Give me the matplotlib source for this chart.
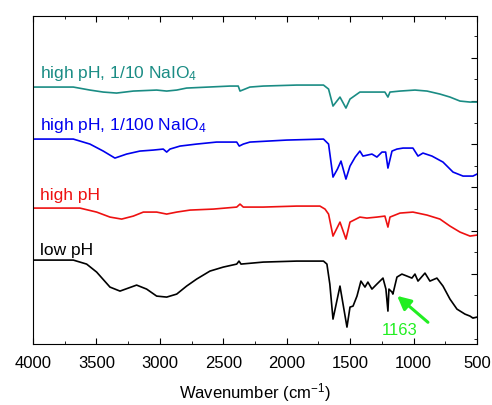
import matplotlib
matplotlib.use('Agg')
import matplotlib.pyplot as plt
from matplotlib.ticker import MultipleLocator

plt.rcParams['font.family'] = ['Liberation Sans', 'DejaVu Sans']
plt.rcParams['mathtext.fontset'] = 'custom'
plt.rcParams['mathtext.rm'] = 'Liberation Sans'
plt.rcParams['mathtext.it'] = 'Liberation Sans'

# spectra (wavenumber in cm-1, offset transmittance a.u.)
wn_low = [4000, 3682, 3577, 3498, 3393, 3314, 3183, 3104, 3025, 2946, 2867, 2789, 2710, 2605,
          2500, 2394, 2376, 2360, 2185, 1921, 1710, 1683, 1660, 1635, 1580, 1525, 1501, 1477,
          1446, 1415, 1383, 1360, 1328, 1289, 1241, 1218, 1202, 1194, 1170, 1163, 1131, 1092,
          1052, 1013, 989, 965, 910, 871, 816, 768, 713, 658, 595, 555, 532, 500]
t_low = [8.4, 8.4, 8.0, 7.2, 5.7, 5.3, 5.9, 5.5, 4.8, 4.7, 5.0, 5.8, 6.5, 7.3,
         7.7, 8.0, 8.3, 8.0, 8.2, 8.3, 8.3, 8.0, 6.0, 2.5, 5.8, 1.7, 3.7, 3.8,
         4.8, 6.3, 5.7, 6.2, 5.5, 6.0, 6.6, 5.5, 3.3, 5.5, 5.2, 5.0, 6.7, 7.0,
         6.8, 6.6, 7.0, 6.3, 7.1, 6.3, 6.6, 5.8, 4.5, 3.5, 3.0, 2.8, 2.6, 2.7]

wn_high = [4000, 3630, 3498, 3393, 3301, 3209, 3130, 3025, 2946, 2867, 2762, 2578, 2394, 2368,
           2342, 2185, 1921, 1738, 1698, 1670, 1635, 1580, 1533, 1501, 1423, 1368, 1289, 1226,
           1202, 1186, 1107, 1005, 894, 792, 713, 634, 555, 500]
t_high = [13.6, 13.6, 13.2, 12.7, 12.5, 12.8, 13.2, 13.2, 13.0, 13.2, 13.4, 13.5, 13.7, 14.0,
          13.7, 13.7, 13.8, 13.8, 13.5, 13.0, 10.8, 12.2, 10.5, 12.2, 12.7, 12.6, 12.7, 12.8,
          11.7, 12.7, 13.1, 13.2, 12.9, 12.5, 11.8, 11.2, 10.8, 10.9]

wn_100 = [4000, 3682, 3551, 3446, 3354, 3262, 3157, 3052, 2973, 2946, 2920, 2841, 2710, 2553,
          2394, 2374, 2342, 2290, 2000, 1710, 1670, 1635, 1600, 1572, 1533, 1501, 1460, 1423,
          1399, 1328, 1289, 1249, 1220, 1202, 1170, 1131, 1083, 1005, 965, 926, 855, 768,
          689, 610, 532, 500]
t_100 = [20.5, 20.5, 20.0, 19.3, 18.6, 19.0, 19.3, 19.4, 19.5, 19.2, 19.5, 19.8, 20.0, 20.2,
         20.2, 19.8, 20.0, 20.2, 20.4, 20.5, 20.0, 16.7, 17.5, 18.3, 16.5, 17.8, 18.7, 19.3,
         18.8, 19.0, 18.7, 19.2, 19.2, 17.6, 19.3, 19.5, 19.6, 19.6, 18.8, 19.1, 18.8, 18.2,
         17.2, 16.8, 16.8, 17.0]

wn_10 = [4000, 3682, 3551, 3446, 3341, 3209, 3025, 2946, 2867, 2789, 2447, 2382, 2368, 2329,
         2290, 2185, 1921, 1710, 1670, 1635, 1580, 1533, 1501, 1423, 1344, 1226, 1202, 1186,
         1107, 989, 894, 792, 713, 634, 555, 500]
t_10 = [25.7, 25.7, 25.4, 25.2, 25.1, 25.3, 25.4, 25.3, 25.4, 25.6, 25.8, 25.8, 25.3, 25.5,
        25.7, 25.8, 25.9, 25.9, 25.5, 23.8, 24.7, 23.6, 24.5, 25.2, 25.2, 25.2, 24.7, 25.2,
        25.3, 25.4, 25.3, 25.0, 24.7, 24.3, 24.2, 24.2]

labels = ['low pH', 'high pH', 'high pH, 1/100 NaIO$_4$', 'high pH, 1/10 NaIO$_4$']
label_y = [9.5, 15.0, 22.0, 27.2]
colors = ['black', '#ee1111', '#0000ee', '#1a8c84']

fig = plt.figure(figsize=(4.92, 4.06), dpi=100)
ax = fig.add_axes([0.067, 0.150, 0.9025, 0.808])

series = [(wn_low, t_low), (wn_high, t_high), (wn_100, t_100), (wn_10, t_10)]
for (x, y), lab, ly, c in zip(series, labels, label_y, colors):
    ax.plot(x, y, color=c, lw=1.2)
    ax.text(3945, ly, lab, color=c, fontsize=12.5, va='center', ha='left')

# 1163 band marker
ax.annotate('', xy=(1146, 5.0), xytext=(870, 2.0),
            arrowprops=dict(arrowstyle='-|>,head_length=0.8,head_width=0.4',
                            color='#22ee22', lw=2.2))
ax.text(1107, 1.5, '1163', color='#22ee22', fontsize=12, ha='center', va='center')

ax.set_xlim(4000, 500)
ax.set_ylim(0, 32.8)
ax.xaxis.set_major_locator(MultipleLocator(500))
ax.xaxis.set_minor_locator(MultipleLocator(250))
ax.yaxis.set_major_locator(MultipleLocator(4.32, offset=2.7))
ax.yaxis.set_minor_locator(MultipleLocator(4.32, offset=0.54))
ax.tick_params(axis='x', which='both', direction='in', top=True, bottom=True,
               labelsize=12, pad=8)
ax.tick_params(axis='x', which='major', length=4)
ax.tick_params(axis='x', which='minor', length=2.5)
ax.tick_params(axis='y', which='both', direction='in', left=False, right=True,
               labelleft=False, labelright=False)
ax.tick_params(axis='y', which='major', length=4)
ax.tick_params(axis='y', which='minor', length=2.5)
ax.set_xlabel('Wavenumber (cm$^{-1}$)', fontsize=12, labelpad=7)

plt.savefig('out.png', dpi=100)
